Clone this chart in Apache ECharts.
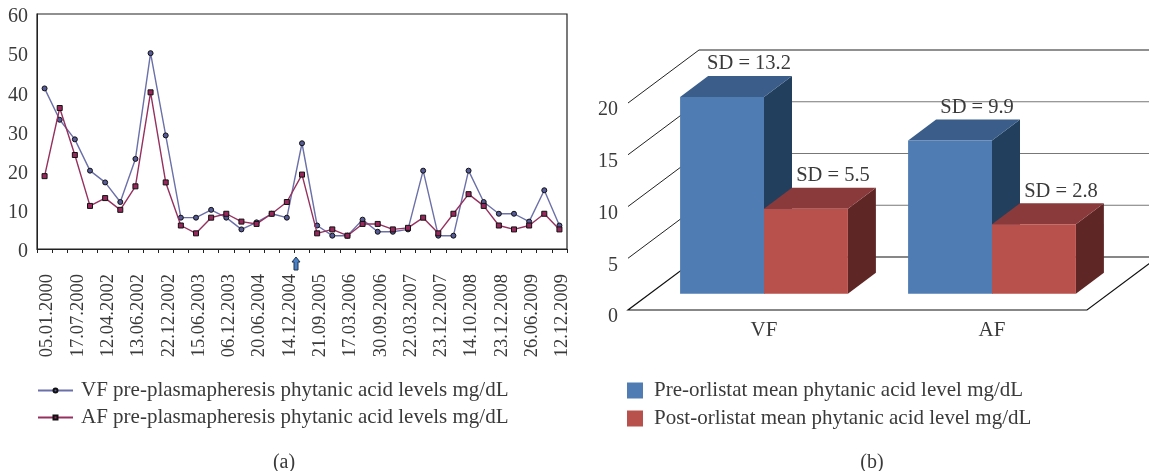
<!DOCTYPE html>
<html><head><meta charset="utf-8">
<style>html,body{margin:0;padding:0;background:#fff}#c{width:1149px;height:471px}</style>
<script src="https://cdn.jsdelivr.net/npm/echarts@6/dist/echarts.min.js"></script>
</head><body><div id="c"></div>
<script>
const dates = ['05.01.2000','','17.07.2000','','12.04.2002','','13.06.2002','','22.12.2002','','15.06.2003','','06.12.2003','','20.06.2004','','14.12.2004','','21.09.2005','','17.03.2006','','30.09.2006','','22.03.2007','','23.12.2007','','14.10.2008','','23.12.2008','','26.06.2009','','12.12.2009'];
const vfLevels = [41,33,28,20,17,12,23,50,29,8,8,10,8,5,6.8,9,8,27,6,3.4,3.4,7.5,4.4,4.4,5,20,3.4,3.4,20,12,9,9,7,15,6];
const afLevels = [18.6,36,24,11,13,10,16,40,17,6,4,8,9,7,6.4,9,12,19,4,5,3.4,6.4,6.4,5,5.4,8,4,9,14,11,6,5,6,9,5];
const groups = ['VF','AF'];
const preMeans = [19,14.8];
const postMeans = [8.2,6.7];
const preSD = ['SD = 13.2','SD = 9.9'];
const postSD = ['SD = 5.5','SD = 2.8'];
const wallTicks = [0,5,10,15,20];
const nameVF='VF pre-plasmapheresis phytanic acid levels mg/dL', nameAF='AF pre-plasmapheresis phytanic acid levels mg/dL';
const namePre='Pre-orlistat mean phytanic acid level mg/dL', namePost='Post-orlistat mean phytanic acid level mg/dL';
const FONT='"Liberation Serif"', TXT='#3a3a3a';
const DX=71, DY=-53, X0=628, X1=1087, BX=28, BY=-21, INSET=-16.3;

function wall(params, api){
  const v=api.value(1), y=api.coord([0,v])[1], ch=[];
  if(v===0) ch.push({type:'polygon',shape:{points:[[X0,y],[X1,y],[X1+DX,y+DY],[X0+DX,y+DY]]},style:{fill:'#fff',stroke:'#111',lineWidth:1.2}});
  else {
    ch.push({type:'line',shape:{x1:X0,y1:y,x2:X0+DX,y2:y+DY},style:{stroke:'#222',lineWidth:1}});
    ch.push({type:'line',shape:{x1:X0+DX,y1:y+DY,x2:1149,y2:y+DY},style:{stroke:v===20?'#222':'#777',lineWidth:1.2}});
  }
  return {type:'group',children:ch};
}
function bar3d(shift,front,top,side,labels){
  return function(params,api){
    const i=params.dataIndex, p=api.coord([i,api.value(1)]), b=api.coord([i,0]), w=api.size([1,0])[0]*0.368;
    const x0=p[0]+shift*w, x1=x0+w, yt=p[1]+INSET, yb=b[1]+INSET;
    return {type:'group',children:[
      {type:'polygon',shape:{points:[[x1,yt],[x1+BX,yt+BY],[x1+BX,yb+BY],[x1,yb]]},style:{fill:side}},
      {type:'polygon',shape:{points:[[x0,yt],[x0+BX,yt+BY],[x1+BX,yt+BY],[x1,yt]]},style:{fill:top}},
      {type:'rect',shape:{x:x0,y:yt,width:w,height:yb-yt},style:{fill:front}},
      {type:'text',style:{text:labels[i],x:x0+w/2+27,y:yt+BY-12,align:'center',verticalAlign:'middle',font:'20.5px '+FONT,fill:TXT},z2:5}
    ]};
  };
}
const chart=echarts.init(document.getElementById('c'));
chart.setOption({
  animation:false,backgroundColor:'#fff',
  title:[
    {text:'(a)',left:279,top:458,textAlign:'center',textVerticalAlign:'middle',textStyle:{fontFamily:FONT,fontSize:20,fontWeight:'normal',color:TXT}},
    {text:'(b)',left:867,top:458,textAlign:'center',textVerticalAlign:'middle',textStyle:{fontFamily:FONT,fontSize:20,fontWeight:'normal',color:TXT}}
  ],
  grid:[
    {left:37,top:14,width:530,height:235,show:true,borderColor:'#222',borderWidth:1.2,backgroundColor:'#fff'},
    {left:650,top:103,width:456,height:207}
  ],
  xAxis:[
    {type:'category',gridIndex:0,data:dates,boundaryGap:true,axisLine:{lineStyle:{color:'#222'}},axisTick:{show:true,interval:0,length:4,lineStyle:{color:'#222'}},
     axisLabel:{interval:0,rotate:90,fontFamily:FONT,fontSize:18.5,color:TXT,margin:25,align:'right',verticalAlign:'top',lineHeight:6}},
    {type:'category',gridIndex:1,data:groups,axisLine:{show:false},axisTick:{show:false},axisLabel:{fontFamily:FONT,fontSize:21,color:TXT,margin:10}}
  ],
  yAxis:[
    {type:'value',gridIndex:0,min:0,max:60,interval:10,splitLine:{show:false},axisLine:{show:true,lineStyle:{color:'#222'}},axisTick:{show:false},axisLabel:{fontFamily:FONT,fontSize:20,color:TXT,margin:9,verticalAlign:'top',lineHeight:6}},
    {type:'value',gridIndex:1,min:0,max:20,interval:5,offset:22,splitLine:{show:false},axisLine:{show:false},axisTick:{show:false},axisLabel:{fontFamily:FONT,fontSize:20,color:TXT,margin:10,verticalAlign:'top',lineHeight:14}}
  ],
  legend:[
    {data:[nameVF,nameAF],orient:'vertical',left:37,top:380,itemWidth:35,itemHeight:5,itemGap:6,selectedMode:false,textStyle:{fontFamily:FONT,fontSize:21,color:TXT,padding:[0,0,0,3]},padding:0},
    {data:[namePre,namePost],orient:'vertical',left:627,top:380,itemWidth:16,itemHeight:16,itemGap:7,selectedMode:false,icon:'rect',textStyle:{fontFamily:FONT,fontSize:21,color:TXT,padding:[0,0,0,6]},padding:0}
  ],
  series:[
    {name:nameVF,type:'line',xAxisIndex:0,yAxisIndex:0,data:vfLevels,symbol:'circle',symbolSize:5,z:3,
     lineStyle:{color:'#6b70a8',width:1.4},itemStyle:{color:'#565a96',borderColor:'#111',borderWidth:1}},
    {name:nameAF,type:'line',xAxisIndex:0,yAxisIndex:0,data:afLevels,symbol:'rect',symbolSize:5,z:4,
     lineStyle:{color:'#96305f',width:1.4},itemStyle:{color:'#96285c',borderColor:'#111',borderWidth:1}},
    {type:'custom',name:'walls',xAxisIndex:1,yAxisIndex:1,clip:false,z:1,silent:true,data:wallTicks.map(v=>[0,v]),renderItem:wall,encode:{x:0,y:1}},
    {type:'custom',name:namePre,xAxisIndex:1,yAxisIndex:1,clip:false,z:2,data:preMeans.map((v,i)=>[i,v]),encode:{x:0,y:1},
     itemStyle:{color:'#4f7cb3'},renderItem:bar3d(-1,'#4f7cb3','#3a5e89','#223f5e',preSD)},
    {type:'custom',name:namePost,xAxisIndex:1,yAxisIndex:1,clip:false,z:3,data:postMeans.map((v,i)=>[i,v]),encode:{x:0,y:1},
     itemStyle:{color:'#b8504c'},renderItem:bar3d(0,'#b8504c','#8a3a3a','#5f2626',postSD)}
  ],
  graphic:[{type:'polygon',z:20,shape:{points:[[296,257],[300,262],[298,262],[298,270],[294,270],[294,262],[292,262]]},style:{fill:'#4a80c4',stroke:'#1c3350',lineWidth:1}}]
});
</script></body></html>
